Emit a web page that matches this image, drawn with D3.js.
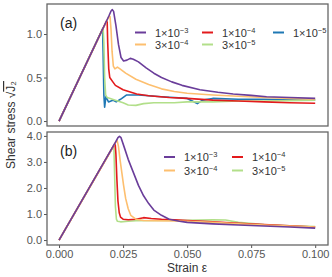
<!DOCTYPE html>
<html>
<head>
<meta charset="utf-8">
<script src="https://cdn.jsdelivr.net/npm/d3@7"></script>
<style>
body{margin:0;background:#fff;}
text{font-family:"Liberation Sans",Arial,sans-serif;}
</style>
</head>
<body>
<script>
const W=332,H=277;

// strain-rate labels (legend)
const rates=[
  {k:"1e-3",m:"1",e:"−3",c:"#6a3d9a"},
  {k:"3e-4",m:"3",e:"−4",c:"#fdbf6f"},
  {k:"1e-4",m:"1",e:"−4",c:"#e31a1c"},
  {k:"3e-5",m:"3",e:"−5",c:"#b2df8a"},
  {k:"1e-5",m:"1",e:"−5",c:"#1f78b4"}
];

// panel (a): [strain, stress]
const a_1e3=[[0,0],[0.0195,1.21],[0.0203,1.265],[0.0208,1.28],[0.0213,1.26],[0.0222,1.1],[0.0232,0.88],[0.0242,0.73],[0.0252,0.69],[0.0265,0.70],[0.0278,0.72],[0.029,0.71],[0.031,0.68],[0.034,0.61],[0.037,0.55],[0.040,0.50],[0.044,0.45],[0.048,0.41],[0.055,0.36],[0.062,0.33],[0.068,0.31],[0.075,0.295],[0.081,0.28],[0.09,0.27],[0.1,0.26]];
const a_3e4=[[0,0],[0.0196,1.21],[0.0199,1.2],[0.0203,1.05],[0.0207,0.8],[0.0212,0.63],[0.0218,0.60],[0.0228,0.62],[0.0238,0.60],[0.026,0.55],[0.03,0.48],[0.035,0.42],[0.04,0.37],[0.045,0.34],[0.05,0.32],[0.06,0.30],[0.07,0.285],[0.08,0.27],[0.09,0.26],[0.1,0.25]];
const a_1e4=[[0,0],[0.0185,1.15],[0.0188,1.14],[0.019,0.9],[0.0194,0.6],[0.0198,0.5],[0.021,0.45],[0.022,0.41],[0.025,0.36],[0.0303,0.31],[0.035,0.29],[0.043,0.27],[0.05,0.26],[0.06,0.24],[0.07,0.23],[0.08,0.22],[0.09,0.21],[0.1,0.205]];
const a_3e5=[[0,0],[0.0172,1.07],[0.0175,0.9],[0.0178,0.5],[0.0182,0.3],[0.0188,0.27],[0.02,0.26],[0.022,0.24],[0.025,0.21],[0.027,0.185],[0.03,0.18],[0.033,0.20],[0.037,0.21],[0.045,0.21],[0.05,0.22],[0.06,0.22],[0.07,0.23],[0.08,0.23],[0.09,0.235],[0.1,0.24]];
const a_1e5=[[0,0],[0.0170,1.06],[0.0172,0.8],[0.0175,0.3],[0.0178,0.16],[0.0183,0.28],[0.0193,0.22],[0.021,0.24],[0.0223,0.22],[0.024,0.25],[0.0264,0.30],[0.031,0.30],[0.035,0.29],[0.04,0.28],[0.045,0.27],[0.05,0.26],[0.052,0.23],[0.054,0.20],[0.056,0.24],[0.06,0.26],[0.07,0.25],[0.08,0.25],[0.09,0.245],[0.1,0.24]];

// panel (b)
const b_1e3=[[0,0],[0.022,3.75],[0.023,3.93],[0.0236,3.98],[0.0242,3.93],[0.0255,3.55],[0.027,3.1],[0.029,2.6],[0.031,2.1],[0.033,1.7],[0.035,1.4],[0.037,1.15],[0.04,0.95],[0.043,0.8],[0.047,0.72],[0.05,0.68],[0.06,0.62],[0.07,0.58],[0.08,0.54],[0.09,0.5],[0.1,0.46]];
const b_3e4=[[0,0],[0.0224,3.8],[0.0227,3.82],[0.0232,3.6],[0.0238,3.1],[0.0245,2.6],[0.0252,2.1],[0.026,1.6],[0.027,1.2],[0.028,0.95],[0.03,0.8],[0.033,0.75],[0.038,0.74],[0.045,0.73],[0.05,0.72],[0.06,0.68],[0.07,0.62],[0.08,0.58],[0.09,0.54],[0.1,0.5]];
const b_1e4=[[0,0],[0.0216,3.67],[0.0219,3.72],[0.0222,3.3],[0.0226,2.3],[0.023,1.5],[0.0235,1.05],[0.024,0.88],[0.025,0.8],[0.027,0.78],[0.03,0.8],[0.033,0.86],[0.036,0.83],[0.04,0.8],[0.045,0.78],[0.05,0.75],[0.06,0.7],[0.07,0.64],[0.08,0.6],[0.09,0.55],[0.1,0.5]];
const b_3e5=[[0,0],[0.0212,3.6],[0.0214,3.62],[0.0217,2.5],[0.022,1.3],[0.0224,0.8],[0.0228,0.72],[0.024,0.7],[0.027,0.72],[0.03,0.74],[0.04,0.75],[0.05,0.76],[0.06,0.78],[0.065,0.77],[0.07,0.68],[0.08,0.6],[0.09,0.55],[0.1,0.52]];

const xTicks=[0,0.025,0.05,0.075,0.1];
const yTicksA=[0,0.5,1.0];
const yTicksB=[0,1,2,3,4];

const svg=d3.select("body").append("svg").attr("width",W).attr("height",H);

const x=d3.scaleLinear().domain([-0.0047,0.105]).range([47,328]);
const yA=d3.scaleLinear().domain([-0.057,1.345]).range([126,4]);
const yB=d3.scaleLinear().domain([-0.19,4.15]).range([245,132]);

const line=y=>d3.line().x(d=>x(d[0])).y(d=>y(d[1]));

function panel(y,series,ticks,label,showX){
  const g=svg.append("g");
  const ax=g.append("g").attr("transform","translate(47,0)")
    .call(d3.axisLeft(y).tickValues(ticks).tickFormat(d3.format(".1f")).tickSize(3).tickPadding(2));
  ax.select(".domain").remove();
  ax.selectAll("line").attr("stroke","#555");
  ax.selectAll("text").attr("fill","#555").style("font-size","11px");
  if(showX){
    const bx=g.append("g").attr("transform","translate(0,"+y.range()[0]+")")
      .call(d3.axisBottom(x).tickValues(xTicks).tickFormat(d3.format(".3f")).tickSize(3).tickPadding(2));
    bx.select(".domain").remove();
    bx.selectAll("line").attr("stroke","#555");
    bx.selectAll("text").attr("fill","#555").style("font-size","11px");
  }
  const clip="clip"+label;
  g.append("clipPath").attr("id",clip).append("rect")
    .attr("x",47).attr("y",y.range()[1]).attr("width",281).attr("height",y.range()[0]-y.range()[1]);
  const lg=g.append("g").attr("clip-path","url(#"+clip+")");
  series.slice().reverse().forEach(s=>{
    lg.append("path").datum(s.d).attr("d",line(y)).attr("fill","none")
      .attr("stroke",s.c).attr("stroke-width",1.6).attr("stroke-linejoin","round");
  });
  g.append("rect").attr("x",47).attr("y",y.range()[1]).attr("width",281)
    .attr("height",y.range()[0]-y.range()[1]).attr("fill","none").attr("stroke","#666").attr("stroke-width",1.3);
  g.append("text").attr("x",60).attr("y",y.range()[1]+24).text("("+label+")")
    .style("font-size","14px").attr("fill","#222");
}

const sA=[a_1e3,a_3e4,a_1e4,a_3e5,a_1e5].map((d,i)=>({d:d,c:rates[i].c}));
const sB=[b_1e3,b_3e4,b_1e4,b_3e5].map((d,i)=>({d:d,c:rates[i].c}));
panel(yA,sA,yTicksA,"a",false);
panel(yB,sB,yTicksB,"b",true);

function legend(items,cols,rowsY){
  items.forEach((r,i)=>{
    const cx=cols[Math.floor(i/2)], cy=rowsY[i%2];
    svg.append("line").attr("x1",cx).attr("x2",cx+11).attr("y1",cy).attr("y2",cy)
      .attr("stroke",r.c).attr("stroke-width",2);
    const t=svg.append("text").attr("x",cx+20).attr("y",cy+4).style("font-size","11px").attr("fill","#333");
    t.append("tspan").text(r.m+"×10");
    t.append("tspan").attr("dy",-4).style("font-size","7.5px").text(r.e);
  });
}
legend(rates,[135,202,273],[32.5,44.5]);
legend(rates.slice(0,4),[164,232],[157,170.5]);

svg.append("text").attr("x",187).attr("y",272).attr("text-anchor","middle")
  .style("font-size","12px").attr("fill","#333").text("Strain ε");

const yl=svg.append("text").attr("transform","translate(15,125) rotate(-90)")
  .attr("text-anchor","middle").style("font-size","12px").attr("fill","#333");
yl.append("tspan").text("Shear stress √");
yl.append("tspan").style("text-decoration","overline").text("J₂");
</script>
</body>
</html>
